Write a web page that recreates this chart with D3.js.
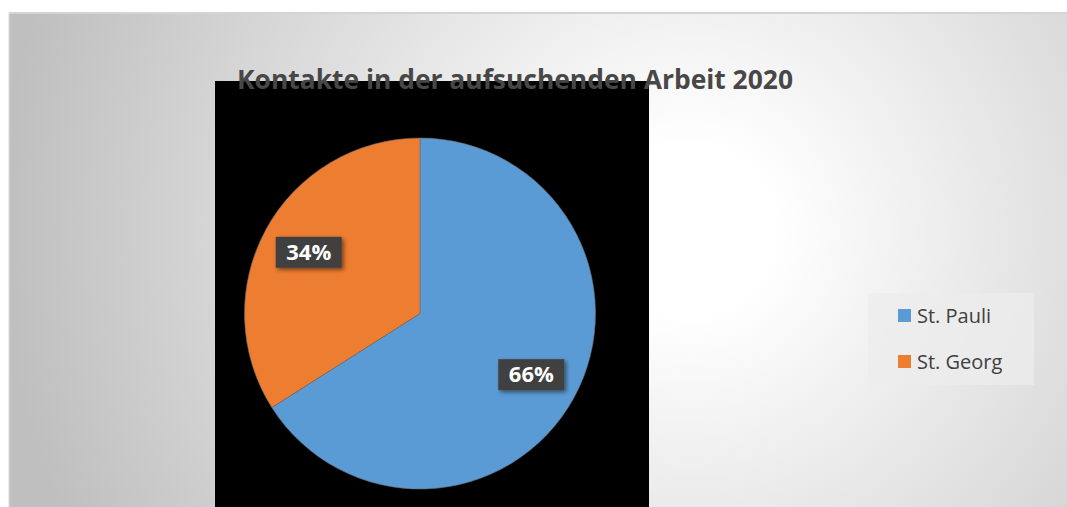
<!DOCTYPE html>
<html><head><meta charset="utf-8">
<script src="https://cdn.jsdelivr.net/npm/d3@7"></script>
<style>html,body{margin:0;padding:0;background:#fff;overflow:hidden}</style>
</head><body>
<svg id="c" width="1067" height="507"></svg>
<script>
const categories = ["St. Pauli", "St. Georg"];
const values = [66, 34];
const colors = ["#5b9bd5", "#ed7d31"];
const title = "Kontakte in der aufsuchenden Arbeit 2020";

const svg = d3.select("#c");
const defs = svg.append("defs");
const rg = defs.append("radialGradient").attr("id","bg")
  .attr("gradientUnits","userSpaceOnUse").attr("cx",690).attr("cy",230).attr("r",690);
rg.append("stop").attr("offset","0").attr("stop-color","#ffffff");
rg.append("stop").attr("offset","0.12").attr("stop-color","#ffffff");
rg.append("stop").attr("offset","1").attr("stop-color","#bfbfbf");
const f = defs.append("filter").attr("id","sh").attr("x","-30%").attr("y","-30%").attr("width","160%").attr("height","160%");
f.append("feDropShadow").attr("dx",2).attr("dy",2).attr("stdDeviation",2).attr("flood-color","#000").attr("flood-opacity",0.5);

// frame
svg.append("rect").attr("x",9).attr("y",13).attr("width",1058).attr("height",494).attr("fill","url(#bg)");
svg.append("line").attr("x1",9).attr("x2",1067).attr("y1",13).attr("y2",13).attr("stroke","#d4d4d4").attr("stroke-width",2);
svg.append("line").attr("x1",9).attr("x2",9).attr("y1",13).attr("y2",507).attr("stroke","#d9d9d9").attr("stroke-width",1);

// plot area
svg.append("rect").attr("x",215).attr("y",81).attr("width",434).attr("height",426).attr("fill","#000");

const cx = 420, cy = 313.5, r = 175.5;
const pie = d3.pie().sort(null).value(d => d.v);
const data = pie(categories.map((c,i) => ({c, v: values[i], col: colors[i]})));
const arc = d3.arc().innerRadius(0).outerRadius(r);
const labelArc = d3.arc().innerRadius(127).outerRadius(127);
const total = d3.sum(values);

const g = svg.append("g").attr("transform",`translate(${cx},${cy})`);
g.selectAll("path").data(data).join("path").attr("d",arc).attr("fill",d=>d.data.col)
  .attr("stroke","#6b6b6b").attr("stroke-width",0.6);

const lab = g.selectAll("g.lab").data(data).join("g").attr("class","lab")
  .attr("transform",d=>`translate(${labelArc.centroid(d)})`);
lab.append("rect").attr("x",-33).attr("y",-15.5).attr("width",66).attr("height",31)
  .attr("fill","#404040").attr("filter","url(#sh)");
lab.append("text").attr("text-anchor","middle").attr("dy","0.36em")
  .attr("font-family","Open Sans, sans-serif").attr("font-weight","bold").attr("font-size",21)
  .attr("fill","#fff").attr("textLength",45).attr("lengthAdjust","spacingAndGlyphs")
  .text(d => Math.round(d.data.v/total*100) + "%");

// title
svg.append("text").attr("x",515).attr("y",89).attr("text-anchor","middle")
  .attr("font-family","Open Sans, sans-serif").attr("font-weight","bold").attr("font-size",26)
  .attr("fill","#474747").attr("textLength",556).attr("lengthAdjust","spacingAndGlyphs").text(title);

// legend
const lg = svg.append("g");
lg.append("rect").attr("x",868).attr("y",293).attr("width",166).attr("height",92).attr("fill","#ececec").attr("opacity",0.75);
const items = lg.selectAll("g.it").data(categories).join("g").attr("class","it")
  .attr("transform",(d,i)=>`translate(898,${309 + i*46})`);
items.append("rect").attr("width",13).attr("height",13).attr("fill",(d,i)=>colors[i]);
items.append("text").attr("x",19).attr("y",6.5).attr("dy","0.36em")
  .attr("font-family","Open Sans, sans-serif").attr("font-size",20).attr("fill","#404040").text(d=>d);
</script>
</body></html>
